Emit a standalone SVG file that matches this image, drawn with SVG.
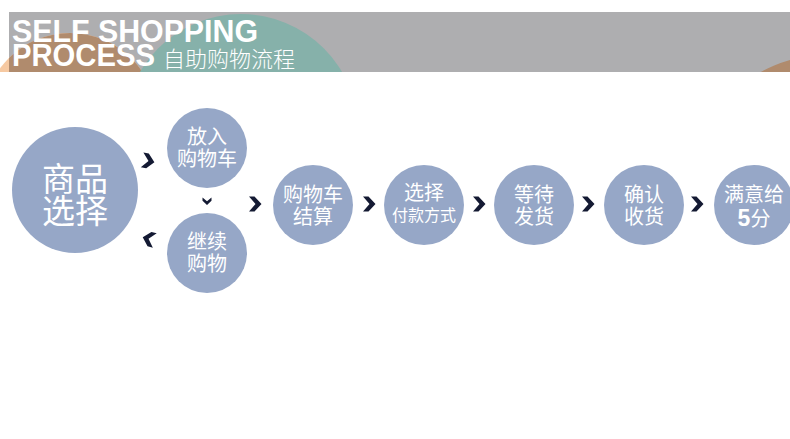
<svg xmlns="http://www.w3.org/2000/svg" width="790" height="439" viewBox="0 0 790 439">
<style>
.node{fill:#96a7c7}
.t{font-family:"Noto Sans CJK SC","Noto Sans",sans-serif;fill:#fff;text-anchor:middle}
.t20{font-size:20px}
.t16{font-size:16px}
.big{font-size:33px}
.chev{fill:#141a33}
.hd{font-family:"Liberation Sans",Arial,sans-serif;font-weight:bold;fill:#fff;font-size:31px}
</style>
<defs>
<clipPath id="band"><rect x="0" y="12" width="790" height="60"/></clipPath>
<clipPath id="gray"><rect x="9" y="12" width="781" height="60"/></clipPath>
<path id="ch" d="M-6,-7.5 L-0.5,-7.5 L6.5,0 L-0.5,7.5 L-6,7.5 L0.5,0 Z"/>
</defs>
<rect width="790" height="439" fill="#fff"/>
<g id="header">
<rect x="9" y="12" width="781" height="60" fill="#aeaeb0"/>
<circle cx="70" cy="120" r="87" fill="#f6c9a2" clip-path="url(#band)"/>
<circle cx="70" cy="120" r="87" fill="#b08b6d" clip-path="url(#gray)"/>
<circle cx="241" cy="131" r="117" fill="#86b1aa" clip-path="url(#gray)"/>
<circle cx="830" cy="200" r="145.6" fill="#b08b6d" clip-path="url(#gray)"/>
<text class="hd"><tspan x="12" y="42" textLength="246" lengthAdjust="spacingAndGlyphs">SELF SHOPPING</tspan><tspan x="12" y="66" textLength="143" lengthAdjust="spacingAndGlyphs">PROCESS</tspan></text>
<text x="163" y="67" font-family="'Noto Sans CJK SC',sans-serif" font-size="22" font-weight="300" fill="#fff">自助购物流程</text>
</g>
<g id="n1"><circle class="node" cx="75" cy="190" r="63"/><text class="t big"><tspan x="75" y="191">商品</tspan><tspan x="75" y="223">选择</tspan></text></g>
<g id="n2"><circle class="node" cx="207" cy="148" r="40"/><text class="t t20"><tspan x="207" y="144">放入</tspan><tspan x="207" y="166">购物车</tspan></text></g>
<g id="n3"><circle class="node" cx="207" cy="253" r="40"/><text class="t t20"><tspan x="207" y="249">继续</tspan><tspan x="207" y="271">购物</tspan></text></g>
<g id="n4"><circle class="node" cx="313" cy="205" r="40"/><text class="t t20"><tspan x="313" y="202">购物车</tspan><tspan x="313" y="224">结算</tspan></text></g>
<g id="n5"><circle class="node" cx="424" cy="205" r="40"/><text class="t t20"><tspan x="424" y="200">选择</tspan><tspan x="424" y="221" font-size="16">付款方式</tspan></text></g>
<g id="n6"><circle class="node" cx="534" cy="205" r="40"/><text class="t t20"><tspan x="534" y="202">等待</tspan><tspan x="534" y="224">发货</tspan></text></g>
<g id="n7"><circle class="node" cx="644" cy="205" r="40"/><text class="t t20"><tspan x="644" y="202">确认</tspan><tspan x="644" y="224">收货</tspan></text></g>
<g id="n8"><circle class="node" cx="754" cy="205" r="40"/><text class="t t20"><tspan x="754" y="202">满意给</tspan><tspan x="754" y="226"><tspan font-family="'Liberation Sans',Arial,sans-serif" font-weight="bold" font-size="23">5</tspan><tspan font-size="20">分</tspan></tspan></text></g>
<g id="connectors" class="chev">
<use href="#ch" transform="translate(148,161) rotate(10)"/>
<use href="#ch" transform="translate(207,201) rotate(90) scale(0.6)"/>
<use href="#ch" transform="translate(149,239) rotate(195)"/>
<use href="#ch" transform="translate(255,204)"/>
<use href="#ch" transform="translate(369,204)"/>
<use href="#ch" transform="translate(479,204)"/>
<use href="#ch" transform="translate(588,204)"/>
<use href="#ch" transform="translate(697,204)"/>
</g>
</svg>
